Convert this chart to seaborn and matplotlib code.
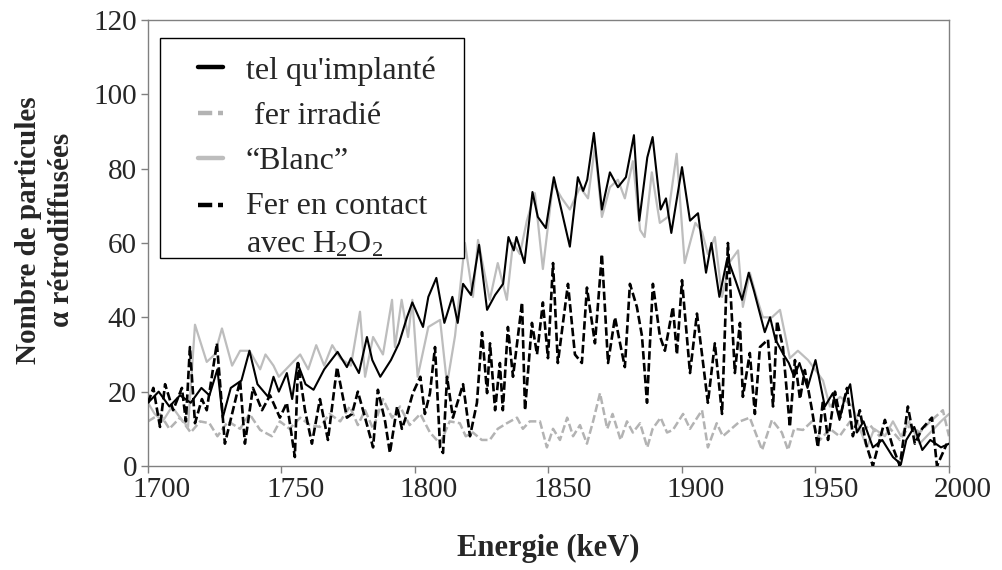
import matplotlib
matplotlib.use("Agg")
import matplotlib.pyplot as plt
import matplotlib.transforms as mtransforms
from matplotlib.patches import Rectangle
import seaborn as sns
import pandas as pd

# --- RBS spectra: energy (keV) and backscattered alpha counts -------------
implante_e = [1700, 1704, 1708, 1712, 1716, 1720, 1723, 1726, 1728, 1731, 1735, 1738,
              1741, 1745, 1747, 1749, 1752, 1754, 1756, 1759, 1762, 1766, 1771, 1774.5,
              1776, 1779, 1782, 1784, 1787, 1791, 1794, 1797, 1799, 1803, 1805, 1808,
              1811, 1814, 1816, 1818, 1821, 1824, 1827, 1830, 1833, 1835, 1837, 1838,
              1841, 1844, 1846, 1849, 1852, 1858, 1861, 1863, 1864.5, 1867, 1870, 1873,
              1876, 1879, 1882, 1884, 1887, 1889, 1892, 1894, 1896, 1900, 1903, 1906,
              1909, 1911, 1914, 1917, 1920, 1922.5, 1925, 1927, 1931, 1933, 1935, 1938,
              1940, 1942, 1944, 1947, 1950, 1953.5, 1956.5, 1959, 1961, 1963, 1965.5, 1968,
              1971.5, 1975, 1979, 1982, 1984, 1987, 1990, 1993, 1997, 2000]
implante_n = [17, 20, 16, 19, 17, 21, 19, 26, 13, 21, 23, 31,
              22, 18.6, 24, 20, 25, 18, 27.7, 22, 20.5, 26, 30.7, 26.6,
              29, 25, 34.7, 28.5, 24, 28.5, 33, 40, 44, 37.4, 45.5, 50.6,
              38.5, 45.5, 38.5, 49, 46, 59.5, 42, 46, 49, 61.6, 58, 61.6,
              54.6, 73.7, 67, 64, 77.7, 59, 77.7, 74, 77, 89.6, 69, 79,
              75, 77.7, 89, 66, 83, 88.5, 69, 72, 62.7, 80.4, 66, 68,
              52, 60, 45.5, 56, 50, 44.7, 52, 47, 36, 40, 34, 30,
              27.7, 24, 27.7, 21, 28.5, 16, 19.6, 12.4, 18.6, 22, 9, 12,
              5, 7, 2.4, 0.5, 7, 10.5, 4.3, 7, 5, 6]

irradie_e = [1700, 1704.5, 1708, 1712, 1716, 1719.5, 1723, 1726, 1730, 1734.5, 1738, 1742,
             1746.4, 1749.4, 1753, 1757, 1760.7, 1764.4, 1768, 1772, 1775.6, 1778.6, 1781.3, 1784.3,
             1788, 1791.4, 1794.4, 1798, 1802, 1805.6, 1809.4, 1813, 1816.8, 1819, 1821.7, 1825,
             1828, 1831, 1834.4, 1838.2, 1840.4, 1843, 1846.8, 1849.4, 1851.7, 1854.3, 1857, 1859.2,
             1861.8, 1864.4, 1866.7, 1869.3, 1872, 1874, 1877, 1879.4, 1881.6, 1884.3, 1887, 1889,
             1892, 1894.4, 1896.6, 1900.4, 1903, 1907.5, 1909.7, 1913, 1915.3, 1918, 1921.7, 1925.4,
             1930, 1933.7, 1937.4, 1939.7, 1942, 1945.3, 1948.7, 1951.7, 1955.4, 1959, 1963, 1966.6,
             1970.4, 1974, 1978, 1981.6, 1985.4, 1989, 1993, 1997.7, 2000]
irradie_n = [12, 14, 10, 13, 9, 12, 11.5, 8, 12, 10, 14, 9.7,
             8, 12, 10, 13, 11, 10.5, 14, 12, 16, 11, 15, 10,
             18, 13, 16, 11, 14, 9, 6, 12, 11.5, 8, 9, 7,
             7, 10, 11.5, 13, 10, 12, 12, 5, 10, 7, 13, 8,
             11, 6, 12, 19.6, 10, 14, 7, 12, 9, 11.5, 5, 10,
             13, 9, 9.7, 14, 10, 15, 5, 11.5, 8, 9.7, 12, 13,
             4.3, 12.4, 9, 4.3, 10, 9.7, 12, 7, 10, 8, 12, 9,
             11, 8, 10, 7, 11, 9, 12, 15, 8]

blanc_e = [1700, 1702.5, 1705.5, 1709, 1712, 1715, 1717.6, 1722, 1725, 1727.7, 1731.5, 1734.5,
           1738, 1742, 1744, 1747, 1749, 1753, 1757, 1760, 1763, 1766, 1769, 1772,
           1776, 1779.4, 1781.3, 1784.3, 1788, 1791.4, 1792.5, 1795, 1797.4, 1799, 1801, 1805,
           1809.4, 1812, 1815, 1818.7, 1821.7, 1823.6, 1828, 1831, 1834.4, 1836.7, 1839.3, 1841.9,
           1844.9, 1847.9, 1851.7, 1855, 1858, 1861.8, 1864.8, 1867.4, 1870, 1873, 1876, 1878.6,
           1881.6, 1884.3, 1886, 1888.7, 1891.7, 1894.7, 1898, 1901, 1905, 1907.5, 1909.7, 1912.3,
           1915, 1918, 1921, 1922.8, 1925.4, 1927.7, 1930.3, 1933.7, 1936.7, 1940.4, 1943.4, 1947.2,
           1949.8, 1952.8, 1955.4, 1959.2, 1964, 1966.6, 1969.3, 1972, 1976, 1979, 1982, 1985,
           1989, 1993, 1997, 2000]
blanc_n = [17, 14, 12, 16, 13, 10.5, 38, 28, 30, 37, 27, 31,
           31, 26, 30, 27, 24, 27, 30, 26, 32.5, 27, 32.5, 29,
           27, 41.5, 24, 34.7, 30, 44.7, 32, 44.7, 34.7, 44.7, 24, 37.4,
           39.3, 22, 35, 60, 45.5, 60.8, 44.7, 54.6, 44.7, 60, 57, 66,
           73.4, 53, 76, 72, 69, 75, 72, 86, 67, 75, 77, 72,
           82, 63.5, 61.6, 79, 65.4, 67, 84, 54.6, 65.4, 63, 57, 61.6,
           45.5, 55, 58, 42.8, 52, 46, 40, 40, 42, 29, 31, 28.5,
           26, 23, 16, 18.6, 16, 10, 5, 10, 8, 12, 8, 12,
           6, 9, 12, 14]

h2o2_e = [1700, 1702, 1704.5, 1706.4, 1709.4, 1712.7, 1714.2, 1715.7, 1717.6, 1720.2, 1722, 1725.8,
          1728.8, 1731.8, 1734.5, 1736.3, 1739.3, 1742.7, 1745.7, 1749.4, 1752, 1755, 1756.2, 1758.8,
          1761.4, 1764.4, 1767.4, 1770.8, 1774.5, 1776.4, 1778.6, 1781.3, 1784.3, 1786.1, 1788.8, 1790.6,
          1793.3, 1795.1, 1797, 1799.2, 1802, 1803.7, 1805.6, 1807.5, 1809.4, 1810.5, 1812, 1814.2,
          1818, 1820.6, 1823.2, 1825.1, 1827, 1828.1, 1830, 1831.8, 1832.9, 1834.8, 1836.7, 1840.1,
          1841.2, 1843.8, 1845.7, 1847.9, 1849.8, 1851.7, 1853.5, 1857.3, 1859.9, 1862.5, 1864.4, 1867.4,
          1870, 1872.3, 1874.9, 1876.8, 1878.6, 1880.5, 1883.1, 1885, 1886.9, 1889.1, 1891.7, 1893.6,
          1896.6, 1898.1, 1900, 1903, 1905.6, 1907.5, 1909.7, 1912.3, 1915, 1917.2, 1919.8, 1921.7,
          1922.8, 1925.4, 1927.3, 1929.2, 1932.2, 1934.1, 1935.6, 1937.8, 1940.4, 1942.3, 1944.2, 1946,
          1948.7, 1950.9, 1952.8, 1954.7, 1957.3, 1959.2, 1961.8, 1964, 1966.6, 1968.9, 1971.5, 1976,
          1979, 1981.6, 1984.6, 1987.2, 1989.9, 1993.6, 1995.5, 1999.2]
h2o2_n = [17, 21, 10.5, 22, 15, 21, 12, 32, 11.5, 18, 15, 33,
          6, 15, 23, 6, 21, 15, 19, 13, 17, 2.4, 27.7, 15,
          6, 18, 7, 26.6, 13, 14, 20, 13, 5, 20.5, 12, 3.5,
          16, 10, 14, 19.6, 24, 14, 19.6, 32, 5, 3.5, 24, 13,
          22, 8, 17, 36, 19.6, 33, 15, 27.7, 15, 37.4, 24, 44,
          15, 38.5, 30, 44, 29, 54.6, 27.7, 49, 30, 27.7, 48, 33,
          57, 27.7, 40, 33, 26.6, 49, 42.8, 35, 17, 49, 35, 31,
          42.8, 30, 50, 25, 41, 30, 17, 33, 14, 60, 25, 38.5,
          18.6, 30.4, 14, 32, 34, 16, 39, 32, 10.5, 28.5, 18, 25.8,
          15, 5, 17.7, 7, 20, 13, 21, 8, 15, 6, 0, 12.4,
          5, 0, 16, 6, 10, 13, 0, 6]

labels = ["tel qu'implanté", " fer irradié", "\u201cBlanc\u201d",
          "Fer en contact\navec H$_2$O$_2$"]
x_ticks = [1700, 1750, 1800, 1850, 1900, 1950, 2000]
y_ticks = [0, 20, 40, 60, 80, 100, 120]

# --- style -----------------------------------------------------------------
sns.set_style("white")
plt.rcParams["font.family"] = ["Liberation Serif", "DejaVu Serif"]
plt.rcParams["mathtext.fontset"] = "custom"
plt.rcParams["mathtext.rm"] = "Liberation Serif"
plt.rcParams["mathtext.it"] = "Liberation Serif:italic"
plt.rcParams["mathtext.bf"] = "Liberation Serif:bold"

TICK_FS = 21
LEG_FS = 23
GRAY = "#bdbdbd"
GRAY_D = "#b3b3b3"
SPINE = "#808080"

fig = plt.figure(figsize=(10.02, 5.70), dpi=100)
ax = fig.add_axes([0.1477, 0.1825, 0.7994, 0.7825])

series = [
    (irradie_e, irradie_n, GRAY_D, (0, (3.2, 1.3)), 1.8, 2.0),
    (blanc_e, blanc_n, GRAY, "-", 1.6, 2.5),
    (h2o2_e, h2o2_n, "black", (0, (3.2, 1.3)), 1.9, 3.0),
    (implante_e, implante_n, "black", "-", 1.5, 3.5),
]
names = [labels[1], labels[2], labels[3], labels[0]]
for (e, n, col, ls, lw, z), name in zip(series, names):
    df = pd.DataFrame({"E": e, "N": n})
    sns.lineplot(data=df, x="E", y="N", ax=ax, color=col, linestyle=ls,
                 linewidth=lw, label=name, zorder=z, legend=False)

ax.set_xlim(1700, 2000)
ax.set_ylim(0, 120)
ax.set_xticks(x_ticks)
ax.set_yticks(y_ticks)
ax.tick_params(axis="both", which="major", direction="out", length=5,
               width=1, color=SPINE, labelsize=TICK_FS, pad=3,
               bottom=True, left=True, top=False, right=False)
for sp in ax.spines.values():
    sp.set_color(SPINE)
    sp.set_linewidth(1.0)

# x tick labels sit slightly to the right of their ticks
shift = mtransforms.ScaledTranslation(0.14, 0, fig.dpi_scale_trans)
for lbl in ax.get_xticklabels():
    lbl.set_transform(lbl.get_transform() + shift)

ax.set_xlabel("Energie (keV)", fontsize=22, fontweight="bold")
ax.xaxis.set_label_coords(0.5, -0.152)
ax.set_ylabel("Nombre de particules\n\u03b1 rétrodiffusées", fontsize=21,
              fontweight="bold", linespacing=1.3)
ax.yaxis.set_label_coords(-0.091, 0.529)

# legend frame box (axes fraction)
ax.add_patch(Rectangle((0.015, 0.466), 0.3795, 0.4936, transform=ax.transAxes,
                       facecolor="white", edgecolor="black", linewidth=1.0,
                       zorder=4, clip_on=False))

handles, labs = ax.get_legend_handles_labels()
order = [labs.index(l) for l in labels]
leg = ax.legend([handles[i] for i in order], [labs[i] for i in order],
                loc="upper left", bbox_to_anchor=(0.062, 0.919),
                fontsize=LEG_FS, frameon=False, handlelength=0.8,
                handletextpad=0.7, borderpad=0, labelspacing=0.5,
                borderaxespad=0)
leg.set_zorder(5)
for lh in leg.get_lines():
    lh.set_linewidth(3.2)
leg.get_texts()[3].set_linespacing(1.4)

# the two-line entry keeps its key beside the first line of text
key = leg.get_lines()[3]
key.set_transform(key.get_transform()
                  + mtransforms.ScaledTranslation(0, 0.21, fig.dpi_scale_trans))

fig.savefig("out.png", dpi=100)
